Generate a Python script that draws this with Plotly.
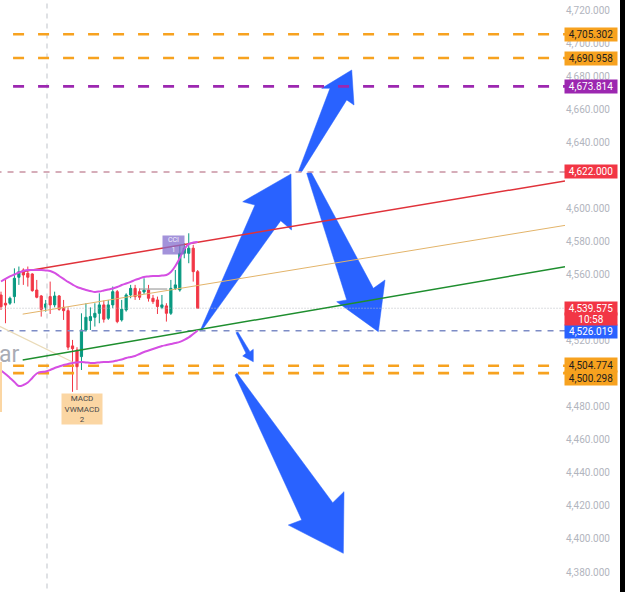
import plotly.graph_objects as go

# ---------------- data ----------------
bars = list(range(45))
opens = [4547.6, 4542.6, 4542.6, 4546.6, 4558.3, 4562.7, 4560.7, 4560.3, 4550.6, 4547.0,
         4540.1, 4546.6, 4541.6, 4547.0, 4540.1, 4538.1, 4516.8, 4514.3, 4510.3, 4526.4,
         4532.1, 4534.1, 4536.5, 4541.6, 4533.5, 4541.6, 4549.6, 4532.5, 4538.5, 4547.6,
         4551.6, 4549.6, 4549.4, 4550.6, 4545.6, 4544.6, 4540.1, 4541.0, 4536.5, 4551.6,
         4550.6, 4572.8, 4572.8, 4575.9, 4561.7]
highs = [4549.6, 4556.7, 4546.6, 4563.7, 4564.8, 4563.7, 4564.8, 4560.7, 4556.7, 4547.6,
         4544.6, 4555.7, 4549.6, 4547.6, 4544.6, 4540.1, 4520.4, 4516.0, 4536.5, 4542.6,
         4540.1, 4542.6, 4548.6, 4544.2, 4544.6, 4552.7, 4550.6, 4544.6, 4548.6, 4553.7,
         4553.7, 4551.6, 4557.7, 4553.7, 4547.6, 4546.6, 4547.6, 4542.6, 4556.7, 4562.7,
         4577.9, 4578.9, 4584.9, 4577.9, 4562.7]
lows = [4538.5, 4530.5, 4541.6, 4542.6, 4553.7, 4553.7, 4552.7, 4549.6, 4545.6, 4534.5,
        4537.5, 4536.1, 4540.1, 4538.1, 4532.5, 4514.3, 4489.0, 4490.1, 4502.2, 4525.4,
        4526.4, 4528.5, 4530.5, 4530.9, 4532.5, 4539.6, 4530.5, 4531.5, 4537.5, 4545.6,
        4544.6, 4544.6, 4548.2, 4543.6, 4542.2, 4536.1, 4539.0, 4531.5, 4535.5, 4550.6,
        4549.6, 4569.8, 4566.8, 4555.7, 4539.575]
closes = [4540.5, 4541.5, 4545.6, 4557.7, 4561.7, 4559.7, 4558.3, 4550.2, 4546.2, 4538.9,
          4542.2, 4541.6, 4547.0, 4538.9, 4538.1, 4516.0, 4515.1, 4504.2, 4526.4, 4534.1,
          4534.5, 4536.5, 4541.6, 4532.9, 4541.6, 4549.6, 4531.5, 4539.0, 4547.6, 4551.6,
          4546.6, 4546.2, 4550.6, 4545.6, 4543.6, 4540.6, 4541.6, 4536.5, 4551.6, 4553.7,
          4572.8, 4575.9, 4575.9, 4561.7, 4539.575]

upper_band = [4555.75, 4557.3, 4558.8, 4560.0, 4561.2, 4562.1, 4562.7, 4562.7, 4562.7, 4562.7,
              4562.4, 4562.1, 4560.9, 4559.1, 4557.3, 4555.5, 4553.9, 4552.4, 4551.5, 4550.6,
              4550.0, 4549.4, 4549.7, 4550.3, 4550.9, 4551.5, 4552.4, 4553.6, 4554.5, 4555.5,
              4556.7, 4557.6, 4558.5, 4558.8, 4559.1, 4559.1, 4559.4, 4559.7, 4561.5, 4565.1,
              4570.0, 4575.4, 4578.4, 4579.3, 4579.6]
lower_band = [4501.9, 4499.8, 4497.4, 4495.0, 4492.5, 4493.1, 4494.6, 4497.4, 4500.1, 4501.0,
              4501.3, 4502.2, 4503.4, 4504.3, 4505.2, 4505.8, 4506.5, 4506.8, 4507.1, 4506.8,
              4506.5, 4506.5, 4506.8, 4507.1, 4507.1, 4507.4, 4508.0, 4508.6, 4509.5, 4510.1,
              4510.7, 4511.9, 4513.1, 4514.0, 4514.9, 4515.8, 4516.7, 4517.3, 4517.9, 4518.5,
              4519.2, 4520.4, 4521.9, 4524.0, 4526.1]

# channel lines: (start bar, start price, end bar, end price)
channel_red = [4.63, 4561.7, 126.17, 4616.6]
channel_mid = [4.85, 4536.0, 126.17, 4589.7]
channel_green = [4.85, 4508.3, 126.17, 4564.7]
trend_tan = [-0.3, 4528.6, 16.0, 4507.0]
box_top = [31.0, 4551.2, 37.2, 4551.2]

# horizontal levels
levels_orange = [4705.302, 4690.958, 4504.774, 4500.298]
level_purple = 4673.814
level_red = 4622.000
level_last = 4539.575
last_time = "10:58"
level_blue = 4526.019
hidden_ticks = [4620, 4540, 4500]  # fully covered by price labels
tick_vals = [v for v in range(4380, 4721, 20) if v not in hidden_ticks]

# hand-drawn arrows: vertices as (bar, price)
arrow_polys = [
    [(44.52, 4525.8), (56.82, 4602.0), (54.07, 4604.0), (64.88, 4620.8), (64.99, 4586.9), (62.57, 4592.5), (44.97, 4526.4)],
    [(66.51, 4622.2), (73.60, 4672.6), (71.74, 4672.6), (78.46, 4683.7), (78.97, 4662.5), (77.34, 4665.6), (67.27, 4622.2)],
    [(68.39, 4621.2), (77.34, 4544.6), (75.10, 4543.5), (84.41, 4525.4), (85.91, 4556.7), (83.29, 4551.6), (69.35, 4622.0)],
    [(52.57, 4524.8), (54.81, 4512.3), (54.07, 4510.7), (56.44, 4507.2), (56.44, 4514.7), (55.70, 4513.3), (53.00, 4525.2)],
    [(52.35, 4499.2), (67.27, 4411.5), (64.27, 4408.4), (76.58, 4391.3), (76.73, 4428.6), (74.21, 4421.9), (52.80, 4500.2)],
]

X_RANGE = [-0.224, 126.17]
Y_RANGE = [4367.9, 4726.05]

ORANGE = "#F7A21F"
PURPLE = "#9C27B0"
BLUE = "#2962FF"

fig = go.Figure()

# arrows (under lines)
for poly in arrow_polys:
    xs = [p[0] for p in poly] + [poly[0][0]]
    ys = [p[1] for p in poly] + [poly[0][1]]
    fig.add_trace(go.Scatter(x=xs, y=ys, mode="lines", fill="toself", fillcolor=BLUE,
                             line=dict(width=0.5, color=BLUE), hoverinfo="skip", showlegend=False))

def hline(y, color, width, dash, x0=X_RANGE[0] - 1):
    fig.add_trace(go.Scatter(x=[x0, X_RANGE[1] + 1], y=[y, y], mode="lines",
                             line=dict(color=color, width=width, dash=dash),
                             hoverinfo="skip", showlegend=False))

# vertical dashed separator
fig.add_trace(go.Scatter(x=[10.29, 10.29], y=[Y_RANGE[0] - 10, Y_RANGE[1] + 10], mode="lines",
                         line=dict(color="#D5D7DC", width=1.5, dash="5px,5px"),
                         hoverinfo="skip", showlegend=False))

for lv in levels_orange:
    hline(lv, ORANGE, 2.6, "11px,14px", x0=2.7)
hline(level_purple, PURPLE, 2.6, "11px,14px", x0=2.7)
hline(level_red, "#C993A2", 1.5, "6px,6px")
hline(level_blue, "#7D8CC6", 1.5, "6px,6px")
hline(level_last, "#B8BBC2", 1, "1px,2px")

def seg(s, color, width):
    fig.add_trace(go.Scatter(x=[s[0], s[2]], y=[s[1], s[3]], mode="lines",
                             line=dict(color=color, width=width), hoverinfo="skip", showlegend=False))

seg(trend_tan, "#EADBB8", 1.2)
seg(box_top, "#A0A0A0", 1.2)
seg(channel_mid, "#E3B46A", 1)
seg(channel_green, "#1E8E2E", 1.5)
seg(channel_red, "#E0323A", 1.5)

# bands
fig.add_trace(go.Scatter(x=bars, y=upper_band, mode="lines", line=dict(color="#D54FE3", width=2, shape="spline"),
                         hoverinfo="skip", showlegend=False))
fig.add_trace(go.Scatter(x=bars, y=lower_band, mode="lines", line=dict(color="#D54FE3", width=2, shape="spline"),
                         hoverinfo="skip", showlegend=False))

# candles
fig.add_trace(go.Candlestick(x=bars, open=opens, high=highs, low=lows, close=closes,
                             increasing=dict(line=dict(color="#089981", width=1), fillcolor="#089981"),
                             decreasing=dict(line=dict(color="#F23645", width=1), fillcolor="#F23645"),
                             whiskerwidth=0, showlegend=False, hoverinfo="skip"))

# right-side price labels
FONT = "Roboto"
def price_label(y, text, bg, fg, height=11, yshift=0):
    fig.add_annotation(xref="paper", x=1, xanchor="left", yref="y", y=y, yanchor="middle",
                       yshift=yshift, xshift=-1, text=text, showarrow=False, bgcolor=bg,
                       font=dict(family=FONT, size=10, color=fg), width=50, height=height,
                       borderpad=1, align="center")

price_label(levels_orange[0], f"{levels_orange[0]:,.3f}", ORANGE, "#1E1E1E")
price_label(levels_orange[1], f"{levels_orange[1]:,.3f}", ORANGE, "#1E1E1E")
price_label(level_purple, f"{level_purple:,.3f}", PURPLE, "#FFFFFF")
price_label(level_red, f"{level_red:,.3f}", "#F23645", "#FFFFFF")
price_label(level_blue, f"{level_blue:,.3f}", "#2962FF", "#FFFFFF", yshift=-1)
price_label(level_last, f"{level_last:,.3f}", "#F23645", "#FFFFFF", yshift=0)
price_label(level_last, last_time, "#F23645", "#FFFFFF", height=10, yshift=-11)
price_label(levels_orange[3], f"{levels_orange[3]:,.3f}", ORANGE, "#1E1E1E", height=12, yshift=-5)
price_label(levels_orange[2], f"{levels_orange[2]:,.3f}", ORANGE, "#1E1E1E", height=12, yshift=1)

# indicator labels on chart
fig.add_annotation(x=18.1, y=4478.6, xref="x", yref="y", text="MACD<br>VWMACD<br>2", showarrow=False,
                   bgcolor="#FBD6A3", font=dict(family=FONT, size=8, color="#4A4A4A"),
                   width=38, height=28, borderpad=1)
fig.add_annotation(x=38.5, y=4577.8, xref="x", yref="y", text="CCI<br>1", showarrow=False,
                   bgcolor="rgba(132,110,206,0.75)", font=dict(family=FONT, size=7, color="#F2F0FA"),
                   width=19, height=16, borderpad=1)
fig.add_annotation(xref="paper", x=0, xanchor="left", xshift=-3, yref="y", y=4511.5, text="ar",
                   showarrow=False, font=dict(family=FONT, size=23, color="#A9ACB5"))

shapes = [
    dict(type="rect", xref="paper", yref="paper", x0=620 / 565, x1=1.2, y0=0, y1=1,
         fillcolor="#000000", line=dict(width=0), layer="above"),
    dict(type="rect", xref="paper", yref="y", x0=0, x1=2 / 565, y0=4476.8, y1=4507.1,
         fillcolor="#FBD6A3", line=dict(width=0), layer="above"),
]

fig.update_layout(
    width=625, height=592, margin=dict(l=0, r=60, t=0, b=0),
    plot_bgcolor="#FFFFFF", paper_bgcolor="#FFFFFF",
    shapes=shapes, showlegend=False,
    xaxis=dict(range=X_RANGE, visible=False, rangeslider=dict(visible=False), fixedrange=True),
    yaxis=dict(range=Y_RANGE, side="right", tickvals=tick_vals, tickformat=",.3f",
               tickfont=dict(family=FONT, size=10, color="#B2B5BE"), showgrid=False,
               zeroline=False, ticks="", showline=False, fixedrange=True),
    font=dict(family=FONT),
)

fig.write_html("out.html")
